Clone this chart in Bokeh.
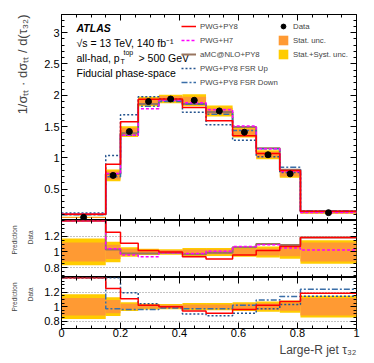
import numpy as np
from bokeh.plotting import figure
from bokeh.layouts import column
from bokeh.models import (Legend, LegendItem, Label, LinearAxis, FixedTicker, Range1d,
                          Title, Grid)
from bokeh.embed import file_html
from bokeh.resources import INLINE

# ---------------- data ----------------
edges = [0.0, 0.15, 0.20, 0.26, 0.33, 0.41, 0.49, 0.58, 0.66, 0.74, 0.81, 1.0]
data = [0.05, 0.72, 1.42, 1.90, 1.94, 1.92, 1.75, 1.41, 1.05, 0.745, 0.125]
stat_rel = [0.12, 0.09, 0.04, 0.025, 0.025, 0.03, 0.03, 0.04, 0.045, 0.055, 0.12]
tot_rel = [0.17, 0.13, 0.06, 0.04, 0.035, 0.05, 0.05, 0.06, 0.07, 0.085, 0.15]
pwg_py8 = [0.100, 0.900, 1.576, 1.938, 1.940, 1.805, 1.593, 1.354, 1.071, 0.797, 0.148]
pwg_h7 = [0.100, 0.749, 1.363, 1.786, 1.921, 1.882, 1.768, 1.509, 1.145, 0.782, 0.128]
amc_py8 = [0.100, 0.742, 1.392, 1.862, 1.921, 1.862, 1.733, 1.495, 1.155, 0.812, 0.148]
fsr_up = [0.120, 1.037, 1.690, 1.976, 1.940, 1.728, 1.531, 1.283, 1.019, 0.767, 0.143]
fsr_down = [0.090, 0.698, 1.363, 1.824, 1.901, 1.862, 1.698, 1.438, 1.145, 0.849, 0.155]

x_ticks = [0, 0.2, 0.4, 0.6, 0.8, 1.0]
x_minor = [round(0.05 * i, 2) for i in range(21)]
main_y_ticks = [0.5, 1, 1.5, 2, 2.5, 3]
main_y_minor = [round(0.1 * i, 1) for i in range(1, 33)]
ratio_y_ticks = [0.8, 1.0, 1.2]
ratio_y_minor = [round(0.7 + 0.05 * i, 2) for i in range(15)]

FONT = "Liberation Sans"
C_RED = "#ff0000"
C_MAG = "#ff00ff"
C_AMC = "#98755f"
C_UP = "#25548f"
C_DOWN = "#3a6ea8"
C_STAT = "#ff9a33"
C_TOT = "#ffcc00"

E = np.array(edges)
D = np.array(data)
left, right = E[:-1], E[1:]


def labelled_axis(p, side, majors, minors, overrides, standoff=2):
    ax = LinearAxis(ticker=FixedTicker(ticks=majors, minor_ticks=minors))
    ax.major_tick_in = 6
    ax.major_tick_out = 0
    ax.minor_tick_in = 3
    ax.minor_tick_out = 0
    ax.axis_line_color = "black"
    ax.major_label_text_font = FONT
    ax.major_label_text_font_size = "11px"
    ax.major_label_text_color = "black"
    ax.major_label_standoff = standoff
    ax.major_label_overrides = overrides
    p.add_layout(ax, side)


def tick_axes(p, side, majors, minors):
    for pos, ln in ((majors, 6), (minors, 3)):
        ax = LinearAxis(ticker=FixedTicker(ticks=[], minor_ticks=pos))
        ax.axis_line_color = None
        ax.major_tick_in = 0
        ax.major_tick_out = 0
        ax.minor_tick_in = ln
        ax.minor_tick_out = 0
        ax.minor_tick_line_color = "black"
        ax.major_label_standoff = 0
        p.add_layout(ax, side)


def make_fig(fh, yr, ymaj, ymin, btop, bbot):
    p = figure(frame_width=295, frame_height=fh, x_range=Range1d(0, 1), y_range=Range1d(*yr),
               output_backend="svg", toolbar_location=None,
               x_axis_location=None, y_axis_location=None,
               min_border_left=60, min_border_right=11,
               min_border_top=btop, min_border_bottom=bbot)
    p.outline_line_color = "black"
    p.grid.visible = False
    tick_axes(p, "above", x_ticks, x_minor)
    tick_axes(p, "right", ymaj, ymin)
    return p


def steps(p, vals, **kw):
    v = list(vals) + [vals[-1]]
    return p.step(x=edges, y=v, mode="after", **kw)


# ---------------- main panel ----------------
p1 = make_fig(206, (0, 3.29), main_y_ticks, main_y_minor, 14, 0)
labelled_axis(p1, "left", main_y_ticks, main_y_minor, {1: "1", 2: "2", 3: "3"})
tick_axes(p1, "below", x_ticks, x_minor)

r_tot = p1.quad(left=left, right=right, bottom=D * (1 - np.array(tot_rel)),
                top=D * (1 + np.array(tot_rel)), fill_color=C_TOT, line_color=None)
r_stat = p1.quad(left=left, right=right, bottom=D * (1 - np.array(stat_rel)),
                 top=D * (1 + np.array(stat_rel)), fill_color=C_STAT, line_color=None)
r_amc = steps(p1, amc_py8, line_color=C_AMC, line_width=2)
r_up = steps(p1, fsr_up, line_color=C_UP, line_width=1.5, line_dash="2 2")
r_down = steps(p1, fsr_down, line_color=C_DOWN, line_width=1.5, line_dash="6 2 2 2")
r_h7 = steps(p1, pwg_h7, line_color=C_MAG, line_width=1.5, line_dash="3 2")
r_py8 = steps(p1, pwg_py8, line_color=C_RED, line_width=1.5)
r_data = p1.scatter(x=(left + right) / 2, y=D, size=6, color="black")

leg1 = Legend(items=[
    LegendItem(label="PWG+PY8", renderers=[r_py8]),
    LegendItem(label="PWG+H7", renderers=[r_h7]),
    LegendItem(label="aMC@NLO+PY8", renderers=[r_amc]),
    LegendItem(label="PWG+PY8 FSR Up", renderers=[r_up]),
    LegendItem(label="PWG+PY8 FSR Down", renderers=[r_down]),
], location=(120, 132), glyph_width=15, glyph_height=12, label_height=12, spacing=2,
    label_standoff=4)
leg2 = Legend(items=[
    LegendItem(label="Data", renderers=[r_data]),
    LegendItem(label="Stat. unc.", renderers=[r_stat]),
    LegendItem(label="Stat.+Syst. unc.", renderers=[r_tot]),
], location=(216, 160), glyph_width=12, glyph_height=12, label_height=12, spacing=2,
    label_standoff=4)
for lg in (leg1, leg2):
    lg.padding = 0
    lg.margin = 0
    lg.border_line_alpha = 0
    lg.background_fill_alpha = 0
    lg.label_text_font = FONT
    lg.label_text_font_size = "7.8px"
    p1.add_layout(lg, "center")


def lab(p, x, y, text, size="10.5px", style="normal"):
    p.add_layout(Label(x=x, y=y, x_units="screen", y_units="screen", text=text,
                       text_font=FONT, text_font_size=size, text_font_style=style,
                       text_baseline="middle", text_align="left", text_color="black"))


lab(p1, 15, 193, "ATLAS", "10.5px", "bold italic")
lab(p1, 15, 178, "\u221As = 13 TeV, 140 fb\u207B\u00B9")
lab(p1, 15, 163, "all-had, p")
lab(p1, 59, 159, "T", "7px")
lab(p1, 62, 168, "top", "7px")
lab(p1, 77, 163, "> 500 GeV")
lab(p1, 15, 148, "Fiducial phase-space")

p1.add_layout(Title(text="1/\u03C3\u209C\u209C \u00B7 d\u03C3\u209C\u209C / d(\u03C4\u2083\u2082)",
                    align="right", text_font=FONT, text_font_size="13px",
                    text_font_style="normal", standoff=24), "left")

# ---------------- ratio panels ----------------


def ratio_panel(fh, yr, bbot, models):
    p = make_fig(fh, yr, ratio_y_ticks, ratio_y_minor, 0, bbot)
    labelled_axis(p, "left", ratio_y_ticks, ratio_y_minor, {1: "1"})
    p.add_layout(Grid(dimension=1, ticker=FixedTicker(ticks=ratio_y_ticks),
                      grid_line_color="#888888", grid_line_dash="1 2"))
    p.quad(left=left, right=right, bottom=1 - np.array(tot_rel), top=1 + np.array(tot_rel),
           fill_color=C_TOT, line_color=None)
    p.quad(left=left, right=right, bottom=1 - np.array(stat_rel), top=1 + np.array(stat_rel),
           fill_color=C_STAT, line_color=None)
    for vals, kw in models:
        r = np.minimum(np.array(vals) / D, yr[1] - 0.004)
        steps(p, r, **kw)
    p.add_layout(Title(text="Data", align="right", offset=10, text_font=FONT,
                       text_font_size="6.5px", text_font_style="normal", standoff=15), "left")
    p.add_layout(Title(text="Prediction", align="right", offset=5, text_font=FONT,
                       text_font_size="6.5px", text_font_style="normal", standoff=0), "left")
    return p


p2 = ratio_panel(57, (0.675, 1.4), 0, [
    (amc_py8, dict(line_color=C_AMC, line_width=2)),
    (pwg_h7, dict(line_color=C_MAG, line_width=1.5, line_dash="3 2")),
    (pwg_py8, dict(line_color=C_RED, line_width=1.5)),
])
tick_axes(p2, "below", x_ticks, x_minor)

p3 = ratio_panel(51, (0.70, 1.4), 0, [
    (fsr_up, dict(line_color=C_UP, line_width=1.5, line_dash="2 2")),
    (fsr_down, dict(line_color=C_DOWN, line_width=1.5, line_dash="6 2 2 2")),
    (pwg_py8, dict(line_color=C_RED, line_width=1.5)),
])
labelled_axis(p3, "below", x_ticks, x_minor,
              {0: "0", 0.2: "0.2", 0.4: "0.4", 0.6: "0.6", 0.8: "0.8", 1: "1"}, standoff=0)
p3.add_layout(Title(text="Large-R jet \u03C4\u2083\u2082", align="right", text_font=FONT,
                    text_font_size="12px", text_font_style="normal", standoff=2), "below")

layout = column(p1, p2, p3, spacing=0)
open("out.html", "w").write(file_html(layout, INLINE))
